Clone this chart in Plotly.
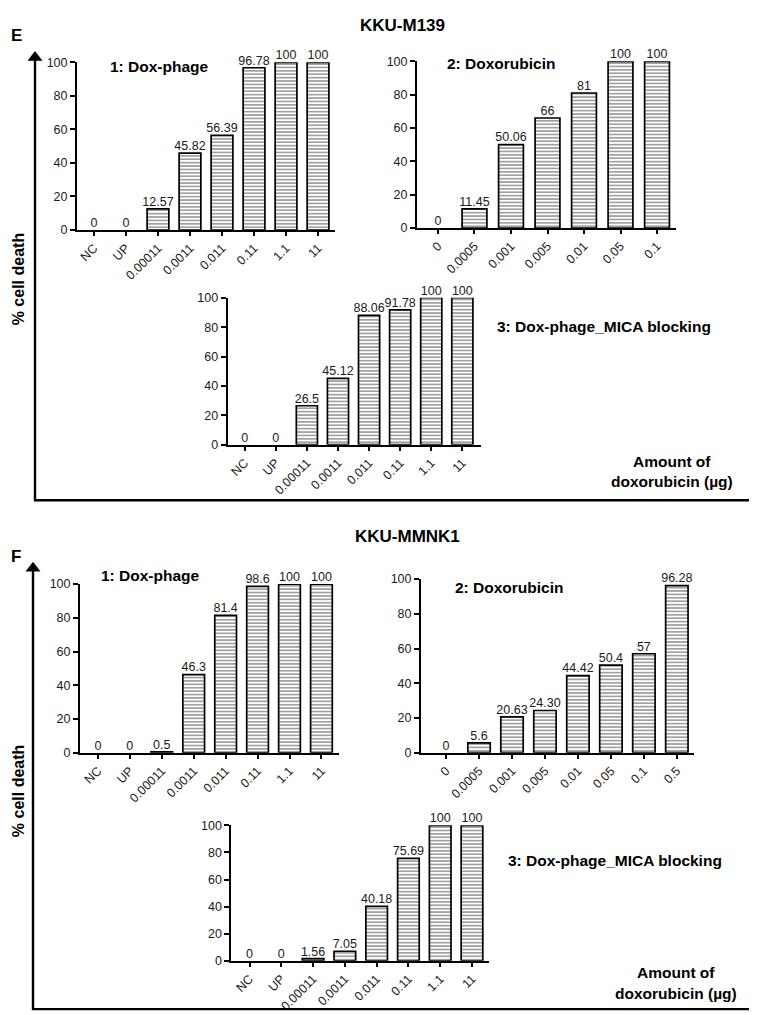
import plotly.graph_objects as go

W, H = 757, 1015

# ---------------- data ----------------
cats_phage = ["NC", "UP", "0.00011", "0.0011", "0.011", "0.11", "1.1", "11"]
cats_dox_e = ["0", "0.0005", "0.001", "0.005", "0.01", "0.05", "0.1"]
cats_dox_f = ["0", "0.0005", "0.001", "0.005", "0.01", "0.05", "0.1", "0.5"]

e1_vals = [0, 0, 12.57, 45.82, 56.39, 96.78, 100, 100]
e1_lbls = ["0", "0", "12.57", "45.82", "56.39", "96.78", "100", "100"]
e2_vals = [0, 11.45, 50.06, 66, 81, 100, 100]
e2_lbls = ["0", "11.45", "50.06", "66", "81", "100", "100"]
e3_vals = [0, 0, 26.5, 45.12, 88.06, 91.78, 100, 100]
e3_lbls = ["0", "0", "26.5", "45.12", "88.06", "91.78", "100", "100"]

f1_vals = [0, 0, 0.5, 46.3, 81.4, 98.6, 100, 100]
f1_lbls = ["0", "0", "0.5", "46.3", "81.4", "98.6", "100", "100"]
f2_vals = [0, 5.6, 20.63, 24.30, 44.42, 50.4, 57, 96.28]
f2_lbls = ["0", "5.6", "20.63", "24.30", "44.42", "50.4", "57", "96.28"]
f3_vals = [0, 0, 1.56, 7.05, 40.18, 75.69, 100, 100]
f3_lbls = ["0", "0", "1.56", "7.05", "40.18", "75.69", "100", "100"]

y_ticks = [0, 20, 40, 60, 80, 100]

# ---------------- layout helpers ----------------
def px_x(v):
    return v / W

def px_y(v):
    return 1 - v / H

# (cats, vals, labels, x-pixel-domain, y-pixel-domain(bottom, top), xrange)
panels = [
    (cats_phage, e1_vals, e1_lbls, (69, 327), (218, 48), [-0.53, 7.53]),
    (cats_dox_e, e2_vals, e2_lbls, (409, 668), (216, 47), [-0.575, 6.52]),
    (cats_phage, e3_vals, e3_lbls, (219.6, 473), (435.7, 286.7), [-0.55, 7.6]),
    (cats_phage, f1_vals, f1_lbls, (72, 331), (748, 577), [-0.56, 7.55]),
    (cats_dox_f, f2_vals, f2_lbls, (413, 686), (748, 572), [-0.76, 7.52]),
    (cats_phage, f3_vals, f3_lbls, (223.4, 480.5), (959, 821.7), [-0.57, 7.52]),
]

FONT = "Arial, Liberation Sans, sans-serif"
TXT = "#1a1a1a"

fig = go.Figure()
layout_axes = {}

for i, (cats, vals, lbls, xd, yd, xr) in enumerate(panels, start=1):
    xa = "x" if i == 1 else f"x{i}"
    ya = "y" if i == 1 else f"y{i}"
    fig.add_trace(go.Bar(
        x=cats, y=vals, xaxis=xa, yaxis=ya, width=0.68,
        marker=dict(
            color="white",
            line=dict(color="black", width=[0 if v == 0 else 1.7 for v in vals]),
            pattern=dict(shape="-", fgcolor="#1e1e1e", bgcolor="white",
                         size=3.4, solidity=0.42),
        ),
        showlegend=False, hoverinfo="skip",
    ))
    fig.add_trace(go.Scatter(
        x=cats, y=vals, xaxis=xa, yaxis=ya, mode="text", text=lbls,
        textposition="top center", cliponaxis=False,
        textfont=dict(family=FONT, size=12.5, color=TXT),
        showlegend=False, hoverinfo="skip",
    ))
    xkey = "xaxis" if i == 1 else f"xaxis{i}"
    ykey = "yaxis" if i == 1 else f"yaxis{i}"
    layout_axes[xkey] = dict(
        domain=[px_x(xd[0]), px_x(xd[1])], anchor=ya, type="category",
        range=xr, showgrid=False, zeroline=False,
        showline=True, linecolor="black", linewidth=2,
        ticks="outside", ticklen=4, tickwidth=1.5, tickcolor="black",
        tickangle=-45, tickfont=dict(family=FONT, size=12.5, color=TXT),
        fixedrange=True,
    )
    layout_axes[ykey] = dict(
        domain=[px_y(yd[0]), px_y(yd[1])], anchor=xa, range=[0, 100],
        tickvals=y_ticks, showgrid=False, zeroline=False,
        showline=True, linecolor="black", linewidth=2,
        ticks="outside", ticklen=5, tickwidth=1.5, tickcolor="black",
        tickfont=dict(family=FONT, size=12.5, color=TXT), fixedrange=True,
    )

# full-page overlay axis (pixel units) for the big outer arrows, drawn last
layout_axes["xaxis7"] = dict(domain=[0, 1], range=[0, W], visible=False,
                             anchor="y7", fixedrange=True)
layout_axes["yaxis7"] = dict(domain=[0, 1], range=[H, 0], visible=False,
                             anchor="x7", fixedrange=True)

# outer axes: (x of vertical, y of horizontal, top of vertical arrow)
outer = [(27, 492, 37), (25, 1008, 555)]
for vx, hy, top in outer:
    fig.add_trace(go.Scatter(
        x=[vx, vx, 744], y=[top + 8, hy, hy], xaxis="x7", yaxis="y7",
        mode="lines", line=dict(color="black", width=2.4),
        showlegend=False, hoverinfo="skip", cliponaxis=False,
    ))
    fig.add_trace(go.Scatter(
        x=[vx, 747], y=[top + 6, hy], xaxis="x7", yaxis="y7", mode="markers",
        marker=dict(symbol=["triangle-up", "triangle-right"], size=13,
                    color="black", line=dict(width=0)),
        showlegend=False, hoverinfo="skip", cliponaxis=False,
    ))

fig.update_layout(**layout_axes)

ann = []

def text(x, y, s, size=15, angle=0, xanchor="center"):
    ann.append(dict(x=px_x(x), y=px_y(y), xref="paper", yref="paper",
                    text=s, showarrow=False, textangle=angle,
                    xanchor=xanchor, yanchor="middle",
                    font=dict(family=FONT, size=size, color="black")))

# Panel E
text(1, 21, "<b>E</b>", size=17, xanchor="left")
text(394, 11, "<b>KKU-M139</b>", size=17)
text(151, 52, "<b>1: Dox-phage</b>", size=15.5)
text(493, 49, "<b>2: Doxorubicin</b>", size=15.5)
text(596, 316, "<b>3: Dox-phage_MICA blocking</b>", size=15.5)
text(664, 453, "<b>Amount of</b>", size=15.5)
text(664, 473, "<b>doxorubicin (µg)</b>", size=15.5)
text(10, 268, "<b>% cell death</b>", size=16, angle=-90)

# Panel F
text(1, 549, "<b>F</b>", size=17, xanchor="left")
text(399, 529, "<b>KKU-MMNK1</b>", size=17)
text(142, 568, "<b>1: Dox-phage</b>", size=15.5)
text(501, 580, "<b>2: Doxorubicin</b>", size=15.5)
text(607, 857, "<b>3: Dox-phage_MICA blocking</b>", size=15.5)
text(668, 971, "<b>Amount of</b>", size=15.5)
text(668, 992, "<b>doxorubicin (µg)</b>", size=15.5)
text(10, 787, "<b>% cell death</b>", size=16, angle=-90)

fig.update_layout(
    width=W, height=H, margin=dict(l=0, r=0, t=0, b=0),
    paper_bgcolor="white", plot_bgcolor="rgba(0,0,0,0)",
    annotations=ann, showlegend=False, bargap=0.32,
)

fig.write_html("out.html")
